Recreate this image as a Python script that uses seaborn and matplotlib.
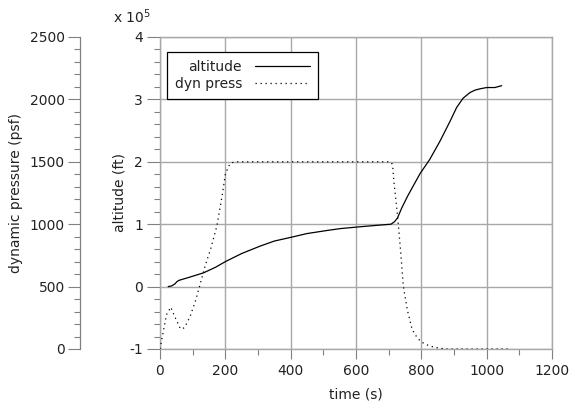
import matplotlib
matplotlib.use("Agg")
import matplotlib.pyplot as plt
import seaborn as sns
import numpy as np
import pandas as pd
from matplotlib.ticker import MultipleLocator
from matplotlib.lines import Line2D

# ---- data ----
alt_time = [25, 35, 45, 52, 58, 90, 133, 170, 200, 250, 307, 350, 401, 450, 512,
            553, 615, 660, 707, 718, 727, 740, 758, 778, 796, 826, 857, 888, 908,
            928, 949, 965, 980, 1000, 1025, 1046]
alt_ft = [0, 1000, 4000, 8000, 10000, 15000, 22000, 31000, 40000, 53000, 65000,
          73000, 79000, 85000, 90000, 93000, 96000, 98000, 100000, 104000, 110000,
          126000, 145000, 164000, 181000, 204000, 233000, 265000, 287000, 302000,
          311000, 315000, 317000, 319000, 319000, 322000]

q_time = [0, 10, 20, 33, 45, 63, 75, 92, 108, 122, 138, 156, 174, 190, 200, 210,
          217, 230, 400, 600, 700, 708, 712, 716, 722, 727, 732, 737, 745, 757,
          772, 785, 798, 815, 838, 860, 879, 950, 1000, 1070]
q_psf = [0, 140, 275, 335, 260, 160, 170, 260, 380, 510, 665, 810, 985, 1225,
         1400, 1465, 1490, 1500, 1500, 1500, 1500, 1495, 1475, 1340, 1200, 1070,
         925, 770, 500, 315, 155, 100, 60, 35, 15, 5, 0, 0, 0, 0]

x_ticks = [0, 200, 400, 600, 800, 1000, 1200]
alt_ticks = [-1, 0, 1, 2, 3, 4]
q_ticks = [0, 500, 1000, 1500, 2000, 2500]

# ---- style ----
sns.set_theme(style="white")
plt.rcParams['font.family'] = ['DejaVu Sans']
plt.rcParams['axes.unicode_minus'] = False
FS = 10
TXT = '#222222'
GRID = '#a8a8a8'
SPINE = '#808080'
PX = 0.72  # points per pixel at 100 dpi

fig = plt.figure(figsize=(5.7, 4.07), dpi=100)
ax = fig.add_axes([160/570, 1-349/407, 392/570, 312/407])

alt_df = pd.DataFrame({'t': alt_time, 'alt': np.array(alt_ft) / 1e5})
sns.lineplot(data=alt_df, x='t', y='alt', ax=ax, color='black', lw=0.9,
             estimator=None, sort=False)

ax.set_xlim(0, 1200)
ax.set_ylim(-1, 4)
ax.set_xticks(x_ticks)
ax.set_yticks(alt_ticks)
ax.xaxis.set_minor_locator(MultipleLocator(100))
ax.yaxis.set_minor_locator(MultipleLocator(0.2))
ax.grid(True, which='major', color=GRID, lw=1.0)
ax.set_axisbelow(True)
ax.tick_params(which='both', direction='out', width=0.8, color=SPINE,
               labelsize=FS, labelcolor=TXT, bottom=True, left=True)
ax.tick_params(axis='x', which='major', length=10*PX, pad=5*PX)
ax.tick_params(axis='y', which='major', length=13*PX, pad=4*PX)
ax.tick_params(which='minor', length=6*PX)
for s in ax.spines.values():
    s.set_color(GRID)
    s.set_linewidth(1.0)
ax.set_xlabel('time (s)', fontsize=FS, color=TXT, labelpad=7)
ax.set_ylabel('altitude (ft)', fontsize=FS, color=TXT, labelpad=2)
ax.text(-0.12, 1.035, r'x 10$^5$', transform=ax.transAxes, fontsize=FS,
        color=TXT, ha='left', va='bottom')

# twin axis for dynamic pressure
ax2 = ax.twinx()
q_df = pd.DataFrame({'t': q_time, 'q': q_psf})
sns.lineplot(data=q_df, x='t', y='q', ax=ax2, color='black', lw=0.9,
             estimator=None, sort=False, linestyle=(0, (1, 3)))
ax2.set_ylim(0, 2500)
ax2.set_yticks(q_ticks)
ax2.yaxis.set_minor_locator(MultipleLocator(100))
ax2.yaxis.set_ticks_position('left')
ax2.yaxis.set_label_position('left')
ax2.spines['left'].set_position(('outward', 80 * PX))
for k in ['right', 'top', 'bottom']:
    ax2.spines[k].set_visible(False)
ax2.spines['left'].set_color(SPINE)
ax2.spines['left'].set_linewidth(0.9)
ax2.tick_params(axis='y', which='both', direction='out', width=0.8, color=SPINE,
                labelsize=FS, labelcolor=TXT, left=True, right=False)
ax2.tick_params(axis='y', which='major', length=12*PX, pad=3*PX)
ax2.tick_params(axis='y', which='minor', length=6*PX)
ax2.set_ylabel('dynamic pressure (psf)', fontsize=FS, color=TXT, labelpad=5)
ax2.grid(False)

handles = [Line2D([], [], color='black', lw=0.9),
           Line2D([], [], color='black', lw=0.9, linestyle=(0, (1, 3)))]
leg = ax2.legend(handles, ['altitude', 'dyn press'], loc='upper left',
                 bbox_to_anchor=(0.018, 0.952), markerfirst=False, fontsize=FS,
                 frameon=True, fancybox=False, handlelength=4.0, borderpad=0.55,
                 labelspacing=0.25, borderaxespad=0, handletextpad=0.9)
leg.get_frame().set_edgecolor('black')
leg.get_frame().set_linewidth(0.9)
leg.get_frame().set_alpha(1)
for t in leg.get_texts():
    t.set_color(TXT)
    t.set_ha('right')

fig.savefig('out.png', dpi=100)
